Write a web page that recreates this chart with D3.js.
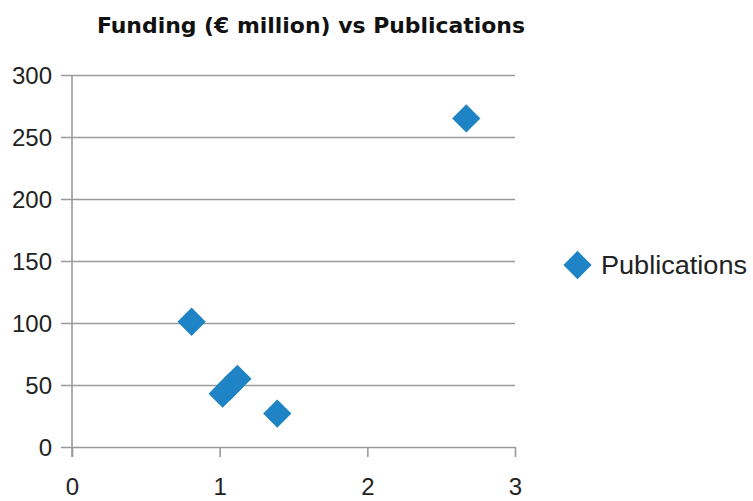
<!DOCTYPE html>
<html><head><meta charset="utf-8">
<script src="https://cdn.jsdelivr.net/npm/d3@7"></script>
<style>body{margin:0;background:#fff}</style>
</head><body>
<svg id="c" width="753" height="501"></svg>
<script>
const title = "Funding (€ million) vs Publications";
const seriesName = "Publications";
const funding = [2.67, 0.81, 1.02, 1.07, 1.12, 1.39];
const publications = [265, 101, 43, 49, 55, 27];
const xTicks = [0, 1, 2, 3];
const yTicks = [0, 50, 100, 150, 200, 250, 300];

const svg = d3.select("#c");
const color = "#1f84c6", grid = "#9a9a9a";
const x = d3.scaleLinear().domain([0, 3]).range([72, 515]);
const y = d3.scaleLinear().domain([0, 300]).range([447, 75]);

svg.append("text").attr("x", 311).attr("y", 33).attr("text-anchor", "middle")
  .attr("font-family", "DejaVu Sans Condensed, DejaVu Sans, sans-serif")
  .attr("font-stretch", "condensed")
  .attr("font-weight", "bold").attr("font-size", 22).attr("fill", "#111")
  .attr("textLength", 428).attr("lengthAdjust", "spacingAndGlyphs").text(title);

const font = "Liberation Sans, Arial, sans-serif";
const yAxis = d3.axisLeft(y).tickValues(yTicks).tickSize(-(515 - 72)).tickFormat(d3.format("d"));
const gy = svg.append("g").attr("transform", "translate(72,0)").call(yAxis);
gy.select(".domain").remove();
gy.selectAll(".tick line").attr("stroke", grid).attr("stroke-width", 1.6).attr("x1", -11);
gy.selectAll(".tick text").attr("font-family", font).attr("font-size", 24).attr("fill", "#222").attr("x", -20).attr("dy", "0.35em");

const xAxis = d3.axisBottom(x).tickValues(xTicks).tickSize(10).tickPadding(21).tickFormat(d3.format("d"));
const gx = svg.append("g").attr("transform", "translate(0,447)").call(xAxis);
gx.select(".domain").remove();
gx.selectAll(".tick line").attr("stroke", grid).attr("stroke-width", 1.6);
gx.selectAll(".tick text").attr("font-family", font).attr("font-size", 24).attr("fill", "#222");

svg.append("line").attr("x1", 72).attr("x2", 72).attr("y1", 75).attr("y2", 457).attr("stroke", grid).attr("stroke-width", 1.6);

const diamond = d3.symbol().type(d3.symbolSquare).size(400);
svg.append("g").selectAll("path").data(funding.map((f, i) => [f, publications[i]])).join("path")
  .attr("d", diamond)
  .attr("transform", d => `translate(${x(d[0])},${y(d[1])}) rotate(45)`)
  .attr("fill", color);

svg.append("path").attr("d", diamond).attr("transform", "translate(577.5,265) rotate(45)").attr("fill", color);
svg.append("text").attr("x", 601).attr("y", 273.5).attr("font-family", font).attr("font-size", 25).attr("fill", "#222")
  .attr("textLength", 146).attr("lengthAdjust", "spacingAndGlyphs").text(seriesName);
</script>
</body></html>
